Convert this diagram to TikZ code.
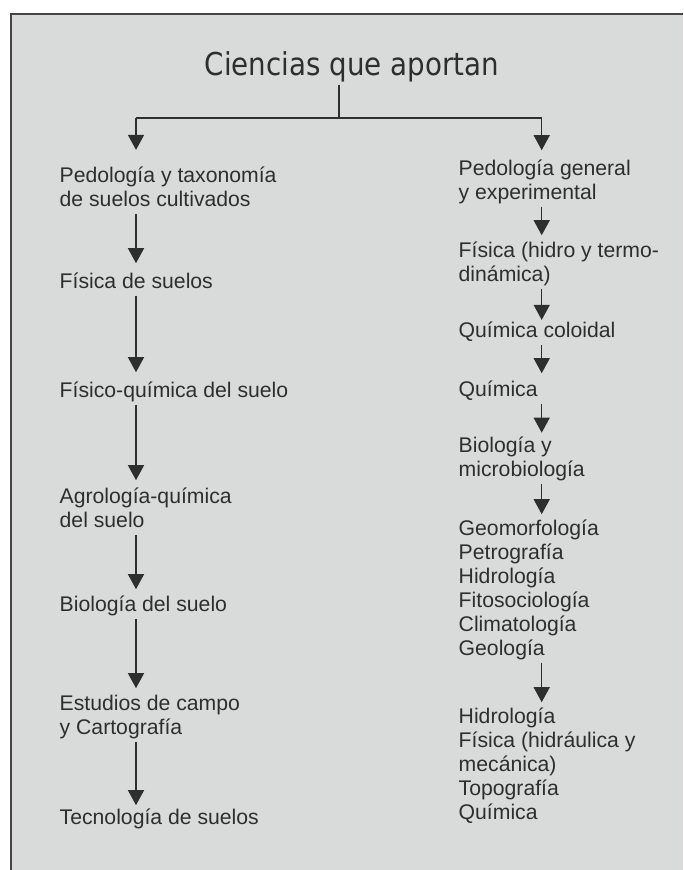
\documentclass[tikz,border=0pt]{standalone}
\usepackage{fontspec}
\setmainfont{Liberation Sans}
\newfontfamily\titlefont[FakeStretch=0.88]{DejaVu Sans}
\usetikzlibrary{arrows.meta}
\definecolor{bg}{HTML}{D9DADA}
\definecolor{ink}{HTML}{2E2E2E}
\definecolor{framec}{HTML}{454545}
\begin{document}
\begin{tikzpicture}[x=1pt,y=-1pt,
  txt/.style={anchor=north west, yshift=16.8pt, inner sep=0pt, align=left, text=ink,
    font=\fontsize{21.2}{24}\selectfont},
  ttl/.style={anchor=base, inner sep=0pt, text=ink,
    font=\titlefont\fontsize{31.5}{36}\selectfont},
  link/.style={draw=ink, line width=1.3pt},
  arr/.style={link, -{Triangle[length=15pt,width=16pt]}, shorten >=5pt}]
\useasboundingbox (0,0) rectangle (683,870);
\fill[bg] (11,14) rectangle (683,870);
\draw[framec, line width=1.8pt] (11,870) -- (11,14) -- (683,14);

% title
\node[ttl] (T) at (352,75) {Ciencias que aportan};
\coordinate (jn) at (339,118);
\coordinate (jL) at (136,118);
\coordinate (jR) at (541.7,118);

% left column (coordinates give the baseline of the first line)
\node[txt] (L1) at (59.5,182.7) {\strut Pedología y taxonomía\\\strut de suelos cultivados};
\node[txt] (L2) at (59.5,288) {\strut Física de suelos};
\node[txt] (L3) at (59.5,397) {\strut Físico-química del suelo};
\node[txt] (L4) at (59.5,503) {\strut Agrología-química\\\strut del suelo};
\node[txt] (L5) at (59.5,611) {\strut Biología del suelo};
\node[txt] (L6) at (59.5,710) {\strut Estudios de campo\\\strut y Cartografía};
\node[txt] (L7) at (59.5,824) {\strut Tecnología de suelos};

% right column
\node[txt] (R1) at (458.5,175) {\strut Pedología general\\\strut y experimental};
\node[txt] (R2) at (458.5,257) {\strut Física (hidro y termo-\\\strut dinámica)};
\node[txt] (R3) at (458.5,337.7) {\strut Química coloidal};
\node[txt] (R4) at (458.5,396) {\strut Química};
\node[txt] (R5) at (458.5,452) {\strut Biología y\\\strut microbiología};
\node[txt] (R6) at (458.5,535) {\strut Geomorfología\\\strut Petrografía\\\strut Hidrología\\\strut Fitosociología\\\strut Climatología\\\strut Geología};
\node[txt] (R7) at (458.5,723) {\strut Hidrología\\\strut Física (hidráulica y\\\strut mecánica)\\\strut Topografía\\\strut Química};

% connectors
\draw[link, shorten <=3pt] (T.south -| jn) -- (jn);
\draw[link] (jL) -- (jR);
\draw[arr, shorten >=16pt] (jL) -- (L1.north -| jL);
\draw[arr, shorten >=8pt] (jR) -- (R1.north -| jR);

\draw[arr, shorten >=8pt] (L1.south -| jL) -- (L2.north -| jL);
\draw[arr, shorten >=8pt] (L2.south -| jL) -- (L3.north -| jL);
\draw[arr, shorten >=6pt] (L3.south -| jL) -- (L4.north -| jL);
\draw[arr] (L4.south -| jL) -- (L5.north -| jL);
\draw[arr] (L5.south -| jL) -- (L6.north -| jL);
\draw[arr, shorten >=2pt] (L6.south -| jL) -- (L7.north -| jL);

\draw[arr] (R1.south -| jR) -- (R2.north -| jR);
\draw[arr, shorten >=1pt] (R2.south -| jR) -- (R3.north -| jR);
\draw[arr, shorten >=6pt] (R3.south -| jR) -- (R4.north -| jR);
\draw[arr, shorten >=2.5pt] (R4.south -| jR) -- (R5.north -| jR);
\draw[arr, shorten >=4pt] (R5.south -| jR) -- (R6.north -| jR);
\draw[arr, shorten >=4pt] (R6.south -| jR) -- (R7.north -| jR);
\end{tikzpicture}
\end{document}
